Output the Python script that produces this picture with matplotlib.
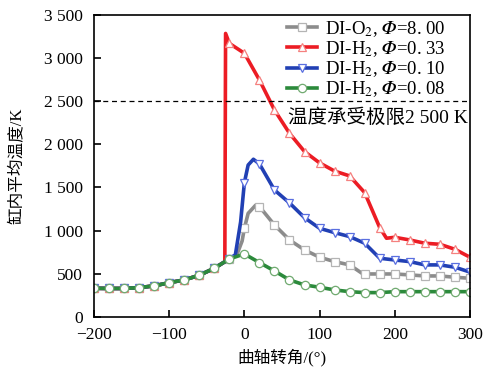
import numpy as np
import matplotlib
matplotlib.use("Agg")
import matplotlib.pyplot as plt
from matplotlib.ticker import FuncFormatter

plt.rcParams.update({
    "font.family": ["Liberation Serif", "Noto Sans CJK SC"],
    "mathtext.fontset": "stix",
    "axes.unicode_minus": True,
})

# compression stroke, identical for every case
ca_comp = [-200, -180, -160, -140, -120, -100, -80, -60, -40, -20]
t_comp = [332, 330, 330, 340, 360, 397, 429, 483, 564, 672]

# DI-O2, phi = 8.00
ca_o2 = ca_comp + [-10, -3, 0, 5, 15, 20, 40, 60, 80, 100, 120, 140, 157, 160, 180, 200, 220, 240, 260, 280, 300]
t_o2 = t_comp + [720, 880, 1027, 1200, 1295, 1279, 1066, 892, 776, 692, 641, 603, 502, 498, 498, 498, 487, 475, 475, 460, 448]

# DI-H2, phi = 0.33 (ignition before TDC)
ca_h33 = ca_comp[:-1] + [-26, -25, -20, 0, 20, 40, 60, 80, 100, 120, 140, 160, 180, 189, 200, 220, 240, 260, 280, 300]
t_h33 = t_comp[:-1] + [640, 3285, 3170, 3055, 2746, 2398, 2128, 1916, 1785, 1690, 1634, 1440, 1035, 912, 923, 892, 854, 842, 784, 692]

# DI-H2, phi = 0.10
ca_h10 = ca_comp + [-12, -5, 0, 5, 12, 20, 40, 60, 80, 100, 120, 140, 160, 180, 200, 220, 240, 260, 280, 300]
t_h10 = t_comp + [720, 1100, 1556, 1760, 1827, 1773, 1471, 1321, 1150, 1027, 977, 931, 854, 680, 660, 641, 603, 603, 576, 520]

# DI-H2, phi = 0.08
ca_h08 = ca_comp + [0, 20, 40, 60, 80, 100, 120, 140, 160, 180, 200, 220, 240, 260, 280, 300]
t_h08 = t_comp + [730, 630, 533, 429, 371, 344, 313, 293, 282, 282, 293, 293, 293, 293, 293, 293]

labels = [
    "DI-O$_2$, $𝛷$=8. 00",
    "DI-H$_2$, $𝛷$=0. 33",
    "DI-H$_2$, $𝛷$=0. 10",
    "DI-H$_2$, $𝛷$=0. 08",
]
line_colors = ["#8c8c8c", "#ec1c24", "#2140b4", "#2b8a3b"]
edge_colors = ["#b4b4b4", "#f5807f", "#5a6fe0", "#70aa70"]
markers = ["s", "^", "v", "o"]

T_LIMIT = 2500

fig = plt.figure(figsize=(4.87, 3.72), dpi=100)
ax = fig.add_axes([0.193, 0.148, 0.772, 0.812])

series = [(ca_o2, t_o2), (ca_h33, t_h33), (ca_h10, t_h10), (ca_h08, t_h08)]
for (ca, t), lab, lc, ec, mk in zip(series, labels, line_colors, edge_colors, markers):
    ca = np.asarray(ca)
    t = np.asarray(t)
    every = list(ca % 20 == 0)
    ax.plot(ca, t, color=lc, lw=2.6, marker=mk, markevery=every, markersize=6,
            markerfacecolor="white", markeredgecolor=ec, markeredgewidth=0.9,
            label=lab)

ax.axhline(T_LIMIT, color="k", ls=(0, (4, 3)), lw=0.9)
ax.text(297, 2310, "温度承受极限2 500 K", ha="right", va="center", fontsize=14)

ax.set_xlim(-200, 300)
ax.set_ylim(0, 3500)
ax.set_xticks([-200, -100, 0, 100, 200, 300])
ax.set_yticks(np.arange(0, 3501, 500))
ax.yaxis.set_major_formatter(FuncFormatter(lambda v, p: f"{int(v):,}".replace(",", " ")))
ax.tick_params(direction="in", length=5, width=1.2, labelsize=12.5)
ax.tick_params(axis="x", pad=7)
ax.tick_params(axis="y", pad=8)
for s in ax.spines.values():
    s.set_linewidth(1.2)

ax.set_xlabel("曲轴转角/(°)", fontsize=12, labelpad=4)
ax.set_ylabel("缸内平均温度/K", fontsize=12)
ax.yaxis.set_label_coords(-0.185, 0.5)

ax.legend(loc="upper right", bbox_to_anchor=(0.97, 1.03), frameon=False,
          fontsize=13.5, handlelength=1.6, handletextpad=0.4,
          labelspacing=0.02, borderpad=0.2)

fig.savefig("out.png", dpi=100)
